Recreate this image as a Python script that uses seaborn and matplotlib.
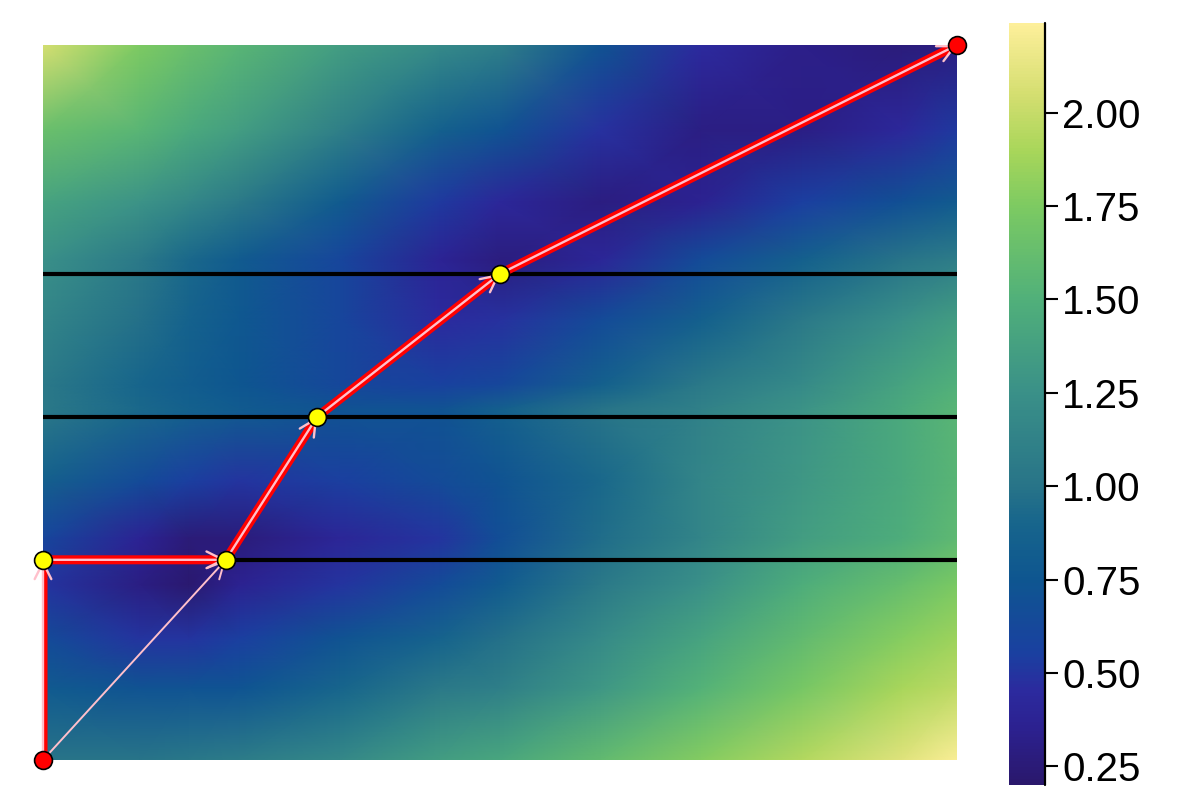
import numpy as np
import matplotlib
matplotlib.use("Agg")
import matplotlib.pyplot as plt
from matplotlib.colors import LinearSegmentedColormap
import seaborn as sns

# ---------------- data ----------------
field_x = [0, 1.06, 1.6, 2.15, 3.25, 4.34, 5.0, 6.1, 7.2, 8.3, 9.4, 10]
field_y = [10, 8.8, 7.8, 7.0, 6.15, 5.25, 4.9, 3.9, 3.1, 2.45, 1.7, 1.0, 0]
field_vals = [
    [2.05, 1.75, 1.65, 1.55, 1.35, 1.20, 1.10, 0.72, 0.45, 0.32, 0.27, 0.29],
    [1.65, 1.55, 1.45, 1.35, 1.10, 0.85, 0.72, 0.48, 0.30, 0.31, 0.43, 0.52],
    [1.40, 1.27, 1.17, 1.05, 0.80, 0.52, 0.42, 0.29, 0.36, 0.55, 0.70, 0.80],
    [1.25, 1.05, 0.92, 0.80, 0.60, 0.38, 0.28, 0.40, 0.65, 0.85, 1.00, 1.08],
    [1.15, 0.98, 0.87, 0.77, 0.60, 0.45, 0.48, 0.65, 0.85, 1.05, 1.25, 1.35],
    [1.05, 0.90, 0.82, 0.75, 0.62, 0.56, 0.62, 0.85, 1.05, 1.20, 1.40, 1.50],
    [1.05, 0.92, 0.86, 0.80, 0.72, 0.72, 0.85, 1.00, 1.12, 1.27, 1.45, 1.55],
    [0.85, 0.65, 0.55, 0.50, 0.55, 0.65, 0.72, 0.92, 1.15, 1.30, 1.45, 1.55],
    [0.60, 0.38, 0.25, 0.27, 0.40, 0.50, 0.68, 0.95, 1.15, 1.35, 1.48, 1.58],
    [0.50, 0.30, 0.22, 0.36, 0.50, 0.65, 0.80, 1.05, 1.25, 1.48, 1.63, 1.73],
    [0.65, 0.50, 0.50, 0.55, 0.72, 0.88, 0.98, 1.20, 1.40, 1.60, 1.78, 1.86],
    [0.80, 0.72, 0.72, 0.73, 0.90, 1.05, 1.10, 1.30, 1.52, 1.72, 1.90, 1.97],
    [1.00, 1.00, 1.03, 1.07, 1.18, 1.35, 1.42, 1.60, 1.77, 1.93, 2.10, 2.22],
]
layer_y = [2.8, 4.8, 6.8]
path_x = [0, 0, 2.0, 3.0, 5.0, 10.0]
path_y = [0, 2.8, 2.8, 4.8, 6.8, 10.0]
direct_x = [0, 2.0]
direct_y = [0, 2.8]
cbar_ticks = [0.25, 0.50, 0.75, 1.00, 1.25, 1.50, 1.75, 2.00]
vmin, vmax = 0.20, 2.24

# haline-like colormap
cmap_vals = [0.20, 0.35, 0.45, 0.55, 0.75, 0.90, 1.00, 1.25, 1.50, 1.75, 1.90, 2.05, 2.24]
cmap_cols = ["#2a186c", "#2c2190", "#2c2a9e", "#1a40a0", "#0e5690", "#17658c",
             "#287488", "#3a9088", "#50b07a", "#7cca62", "#a8d65a", "#d4de70", "#fdef9a"]
cmap = LinearSegmentedColormap.from_list(
    "haline_like", [((v - vmin) / (vmax - vmin), c) for v, c in zip(cmap_vals, cmap_cols)])

# ---------------- style ----------------
sns.set_theme(style="white")
plt.rcParams["font.family"] = ["Liberation Sans", "DejaVu Sans"]

fig = plt.figure(figsize=(12, 8), dpi=100)
ax = fig.add_axes([43 / 1200, 40 / 800, 914 / 1200, 715 / 800])
cax = fig.add_axes([1009 / 1200, 15 / 800, 36 / 1200, 762 / 800])

X, Y = np.meshgrid(field_x, field_y)
C = np.array(field_vals)
mesh = ax.pcolormesh(X, Y, C, shading="gouraud", cmap=cmap, vmin=vmin, vmax=vmax, zorder=0)
ax.set_xlim(0, 10)
ax.set_ylim(0, 10)
ax.axis("off")

# layer boundaries
for ly in layer_y:
    n0 = len(ax.lines)
    sns.lineplot(x=[0, 10], y=[ly, ly], ax=ax, color="black", zorder=2,
                 estimator=None, sort=False)
    for ln in ax.lines[n0:]:
        ln.set_linewidth(3.0)

# red path
n0 = len(ax.lines)
sns.lineplot(x=path_x, y=path_y, ax=ax, color="red", zorder=3,
             estimator=None, sort=False)
for ln in ax.lines[n0:]:
    ln.set_linewidth(6.5)
    ln.set_solid_capstyle("round")
    ln.set_solid_joinstyle("round")

# pink arrows along path
for i in range(len(path_x) - 1):
    ax.annotate("", xy=(path_x[i + 1], path_y[i + 1]), xytext=(path_x[i], path_y[i]),
                arrowprops=dict(arrowstyle="->", color="pink", lw=1.7, mutation_scale=30,
                                shrinkA=0, shrinkB=0), zorder=4, annotation_clip=False)
# direct arrow
ax.annotate("", xy=(direct_x[1], direct_y[1]), xytext=(direct_x[0], direct_y[0]),
            arrowprops=dict(arrowstyle="->", color="pink", lw=1.4, mutation_scale=30,
                            shrinkA=0, shrinkB=0), zorder=4, annotation_clip=False)

# markers
ends_x = [path_x[0], path_x[-1]]
ends_y = [path_y[0], path_y[-1]]
sns.scatterplot(x=path_x[1:-1], y=path_y[1:-1], ax=ax, color="yellow", s=165,
                edgecolor="black", linewidth=1.2, zorder=5, clip_on=False)
sns.scatterplot(x=ends_x, y=ends_y, ax=ax, color="red", s=165,
                edgecolor="black", linewidth=1.2, zorder=5, clip_on=False)

# colorbar
cbar = fig.colorbar(mesh, cax=cax)
cbar.outline.set_visible(False)
cbar.set_ticks(cbar_ticks)
cbar.set_ticklabels([f"{t:.2f}" for t in cbar_ticks])
cax.tick_params(axis="y", length=9.5, width=1.5, labelsize=29, pad=3, colors="black", right=True)
cax.axvline(1.0, color="black", lw=1.6, clip_on=False)

fig.savefig("out.png", dpi=100)
